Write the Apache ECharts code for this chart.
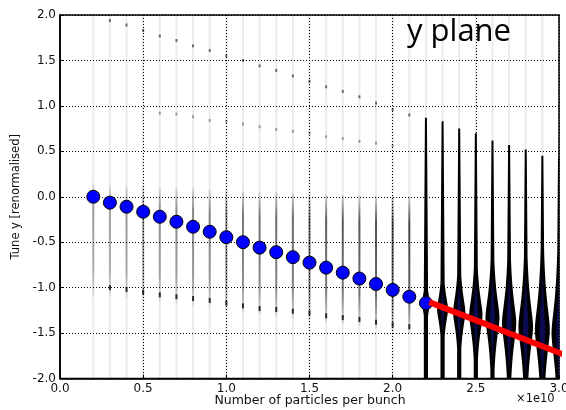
<!DOCTYPE html>
<html><head><meta charset="utf-8">
<script src="https://cdn.jsdelivr.net/npm/echarts@6/dist/echarts.min.js"></script>
<style>html,body{margin:0;padding:0;background:#fff}#c{width:566px;height:410px}</style>
</head><body><div id="c"></div>
<script>
// ---- data ----
const xTickLabels = ['0.0','0.5','1.0','1.5','2.0','2.5','3.0'];
const yTickLabels = ['-2.0','-1.5','-1.0','-0.5','0.0','0.5','1.0','1.5','2.0'];

// measured tune (blue circles), x in units of 1e10
const tuneX = [0.2,0.3,0.4,0.5,0.6,0.7,0.8,0.9,1.0,1.1,1.2,1.3,1.4,1.5,1.6,1.7,1.8,1.9,2.0,2.1,2.2];
const tuneY = [0.00,-0.065,-0.11,-0.165,-0.22,-0.275,-0.33,-0.385,-0.445,-0.50,-0.56,-0.61,-0.665,-0.725,-0.78,-0.835,-0.90,-0.96,-1.025,-1.10,-1.17];

// red line (fit of the unstable mode)
const fitX = [2.22, 3.04];
const fitY = [-1.16, -1.745];

// faint spectrum columns below threshold
const faintX    = [0.2,0.3,0.4,0.5,0.6,0.7,0.8,0.9,1.0,1.1,1.2,1.3,1.4,1.5,1.6,1.7,1.8,1.9,2.0,2.1];
const coreTop   = [0.15,0.12,0.12,0.12,0.10,0.10,0.10,0.08,0.08,0.06,0.05,0.05,0.04,0.03,0.02,0.02,0.01,0.0,0.0,0.0];
const coreBot   = [-1.1,-1.1,-1.12,-1.14,-1.16,-1.18,-1.2,-1.22,-1.25,-1.28,-1.3,-1.32,-1.34,-1.36,-1.38,-1.4,-1.42,-1.45,-1.48,-1.5];
const coreAlpha = [0.34,0.34,0.36,0.38,0.40,0.42,0.44,0.46,0.48,0.50,0.52,0.54,0.56,0.58,0.60,0.62,0.64,0.66,0.68,0.70];

// side-band dots
const upperBandX = [0.3,0.4,0.5,0.6,0.7,0.8,0.9,1.0,1.1,1.2,1.3,1.4,1.5,1.6,1.7,1.8,1.9,2.0,2.1];
const upperBandY = [1.94,1.89,1.83,1.77,1.72,1.66,1.61,1.55,1.50,1.44,1.39,1.33,1.27,1.21,1.16,1.10,1.03,0.96,0.90];
const midBandX = [0.6,0.7,0.8,0.9,1.0,1.1,1.2,1.3,1.4,1.5,1.6,1.7,1.8,1.9,2.0];
const midBandY = [0.92,0.91,0.88,0.84,0.83,0.80,0.77,0.74,0.72,0.70,0.66,0.64,0.61,0.59,0.56];
const lowBandX = [0.3,0.4,0.5,0.6,0.7,0.8,0.9,1.0,1.1,1.2,1.3,1.4,1.5,1.6,1.7,1.8,1.9,2.0,2.1];
const lowBandY = [-1.00,-1.02,-1.05,-1.08,-1.10,-1.12,-1.14,-1.17,-1.20,-1.23,-1.24,-1.26,-1.28,-1.31,-1.33,-1.35,-1.38,-1.41,-1.43];

// unstable columns (violins)
const violinX      = [2.2,2.3,2.4,2.5,2.6,2.7,2.8,2.9,3.0];
const violinTop    = [0.87,0.83,0.75,0.70,0.62,0.57,0.52,0.45,0.43];
const violinCenter = [-1.17,-1.24,-1.27,-1.30,-1.33,-1.39,-1.43,-1.46,-1.50];
const violinSpread = [0.14,0.22,0.27,0.31,0.35,0.38,0.40,0.43,0.45];
const violinWidth  = [0.050,0.066,0.074,0.080,0.084,0.086,0.088,0.090,0.090];

// ---- chart ----
const chart = echarts.init(document.getElementById('c'), null, {renderer:'canvas'});

function faintItem(params, api){
  const x = api.value(0), t = api.value(1), b = api.value(2), a = api.value(3);
  const pTop = api.coord([x, 2.0]), pBot = api.coord([x, -2.0]);
  const pT = api.coord([x, t]), pB = api.coord([x, b]);
  return {type:'group', children:[
    {type:'rect', shape:{x:pTop[0]-1, y:pTop[1], width:2, height:pBot[1]-pTop[1]},
     style:{fill:'rgba(0,0,0,0.08)'}},
    {type:'rect', shape:{x:pT[0]-1, y:pT[1], width:2, height:pB[1]-pT[1]},
     style:{fill:new echarts.graphic.LinearGradient(0,0,0,1,[
       {offset:0,color:'rgba(0,0,0,'+(a*0.2)+')'},
       {offset:0.2,color:'rgba(0,0,0,'+a+')'},
       {offset:0.75,color:'rgba(0,0,0,'+(a*0.8)+')'},
       {offset:1,color:'rgba(0,0,0,'+(a*0.15)+')'}])}}
  ]};
}

function violinItem(params, api){
  const x = api.value(0), top = api.value(1), c = api.value(2), s = api.value(3), w = api.value(4);
  const pxW = api.size([w, 0])[0];
  const N = 140;
  const L = [], R = [], IL = [], IR = [];
  for (let i = 0; i <= N; i++){
    const y = top + (-2.05 - top) * i / N;
    const d = Math.abs(y - c) / s;
    const bulge = (pxW / 2) / (1 + Math.pow(d, 1.7));
    const frac = (top - y) / (top + 2);
    const stem = 1.0 + 1.1 * Math.min(1, frac * 1.6);
    const hw = Math.max(stem, bulge);
    const p = api.coord([x, y]);
    L.push([p[0] - hw, p[1]]); R.push([p[0] + hw, p[1]]);
    const ihw = Math.max(0, bulge - 2.5) * 0.55;
    IL.push([p[0] - ihw, p[1]]); IR.push([p[0] + ihw, p[1]]);
  }
  const pTop = api.coord([x, 2.0]), pStem = api.coord([x, top]);
  return {type:'group', children:[
    {type:'rect', shape:{x:pTop[0]-1, y:pTop[1], width:2, height:pStem[1]-pTop[1]},
     style:{fill:'rgba(0,0,0,0.08)'}},
    {type:'polygon', shape:{points:L.concat(R.reverse())}, style:{fill:'#000'}},
    {type:'polygon', shape:{points:IL.concat(IR.reverse())}, style:{fill:'rgba(20,20,150,0.55)'}}
  ]};
}

const option = {
  animation:false,
  backgroundColor:'#fff',
  grid:{left:60, right:7, top:15, bottom:31.5, containLabel:false, outerBoundsMode:'none',
        show:true, borderColor:'#000', borderWidth:1.5, backgroundColor:'transparent'},
  xAxis:{type:'value', min:0, max:3, interval:0.5,
    axisLine:{show:true, onZero:false, lineStyle:{color:'#000', width:1.5}},
    axisTick:{show:true, inside:true, length:4, lineStyle:{color:'#000'}},
    splitLine:{show:true, lineStyle:{color:'#000', type:[1,2], width:1}},
    axisLabel:{color:'#111', fontFamily:'DejaVu Sans', fontSize:12, margin:4,
      formatter:(v)=>xTickLabels[Math.round(v/0.5)]}
  },
  yAxis:{type:'value', min:-2, max:2, interval:0.5,
    axisLine:{show:true, onZero:false, lineStyle:{color:'#000', width:1.5}},
    axisTick:{show:true, inside:true, length:4, lineStyle:{color:'#000'}},
    splitLine:{show:true, lineStyle:{color:'#000', type:[1,2], width:1}},
    axisLabel:{color:'#111', fontFamily:'DejaVu Sans', fontSize:12, margin:4,
      formatter:(v)=>yTickLabels[Math.round((v+2)/0.5)]},
    name:'Tune y [renormalised]', nameLocation:'middle', nameGap:36,
    nameTextStyle:{color:'#111', fontFamily:'DejaVu Sans', fontSize:11.5}
  },
  graphic:[
    {type:'text', left:407, top:17, style:{text:'y plane', fill:'#000', font:'31px "Open Sans"'}, z:100},
    {type:'text', x:310, y:401, style:{text:'Number of particles per bunch', fill:'#111',
      font:'12.5px "DejaVu Sans"', align:'center', verticalAlign:'middle'}, z:100},
    {type:'text', left:516, top:393, style:{text:'\u00d71e10', fill:'#111', font:'11.5px "DejaVu Sans"'}, z:100}
  ],
  series:[
    {type:'custom', renderItem:faintItem, clip:true, z:1,
     data:faintX.map((x,i)=>[x, coreTop[i], coreBot[i], coreAlpha[i]])},
    {type:'scatter', symbol:'rect', symbolSize:[2,3], z:2, itemStyle:{color:'rgba(0,0,0,0.55)', opacity:1},
     data:upperBandX.map((x,i)=>[x, upperBandY[i]])},
    {type:'scatter', symbol:'rect', symbolSize:[2,3], z:2, itemStyle:{color:'rgba(0,0,0,0.35)', opacity:1},
     data:midBandX.map((x,i)=>[x, midBandY[i]])},
    {type:'scatter', symbol:'rect', symbolSize:[2,5], z:2, itemStyle:{color:'rgba(0,0,0,0.8)', opacity:1},
     data:lowBandX.map((x,i)=>[x, lowBandY[i]])},
    {type:'custom', renderItem:violinItem, clip:true, z:3,
     data:violinX.map((x,i)=>[x, violinTop[i], violinCenter[i], violinSpread[i], violinWidth[i]])},
    {type:'scatter', z:5, symbol:'circle', symbolSize:13,
     itemStyle:{color:'#0000ff', borderColor:'#000', borderWidth:1, opacity:1},
     data:tuneX.map((x,i)=>[x, tuneY[i]])},
    {type:'line', z:6, clip:false, symbol:'none', lineStyle:{color:'#ff0000', width:6},
     data:fitX.map((x,i)=>[x, fitY[i]])}
  ]
};
chart.setOption(option);
</script>
</body></html>
